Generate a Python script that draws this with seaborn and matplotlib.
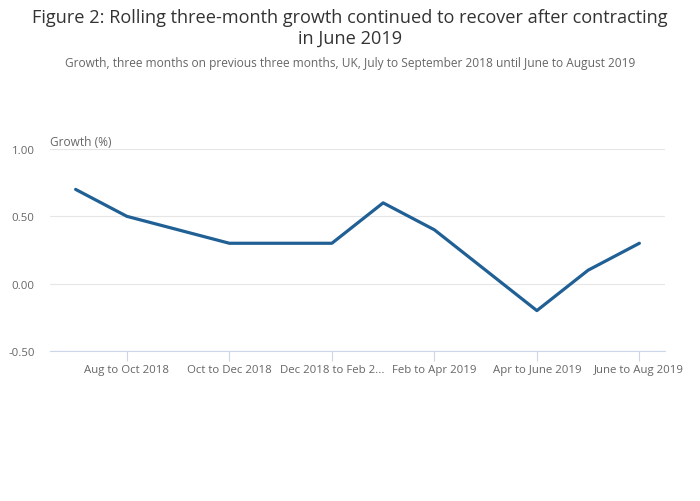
import matplotlib
matplotlib.use("Agg")
import matplotlib.pyplot as plt
import seaborn as sns
import pandas as pd

periods = ["Jul to Sep 2018", "Aug to Oct 2018", "Sep to Nov 2018", "Oct to Dec 2018",
           "Nov 2018 to Jan 2019", "Dec 2018 to Feb 2019", "Jan to Mar 2019",
           "Feb to Apr 2019", "Mar to May 2019", "Apr to June 2019",
           "May to July 2019", "June to Aug 2019"]
growth = [0.7, 0.5, 0.4, 0.3, 0.3, 0.3, 0.6, 0.4, 0.1, -0.2, 0.1, 0.3]
tick_idx = [1, 3, 5, 7, 9, 11]
tick_labels = ["Aug to Oct 2018", "Oct to Dec 2018", "Dec 2018 to Feb 2...",
               "Feb to Apr 2019", "Apr to June 2019", "June to Aug 2019"]
y_ticks = [-0.5, 0.0, 0.5, 1.0]

sns.set_theme(style="white")
plt.rcParams["font.family"] = ["Open Sans", "DejaVu Sans"]

df = pd.DataFrame({"pos": range(len(periods)), "period": periods, "growth": growth})

fig = plt.figure(figsize=(7, 5.02), dpi=100)
ax = fig.add_axes([50 / 700, 1 - 352 / 502, 615 / 700, 202 / 502])

sns.lineplot(data=df, x="pos", y="growth", ax=ax, color="#206095", linewidth=2.3)

ax.set_xlim(-0.5, 11.5)
ax.set_ylim(-0.5, 1.0)
ax.set_yticks(y_ticks)
ax.set_yticklabels([f"{v:.2f}" for v in y_ticks])
ax.set_xticks(tick_idx)
ax.set_xticklabels(tick_labels)
ax.set_xlabel("")
ax.set_ylabel("")
ax.grid(axis="y", color="#e6e6e6", linewidth=0.8)
ax.set_axisbelow(True)
for s in ["top", "right", "left"]:
    ax.spines[s].set_visible(False)
ax.spines["bottom"].set_color("#ccd6eb")
ax.spines["bottom"].set_linewidth(0.8)
ax.tick_params(axis="x", bottom=True, length=7.5, width=0.8, color="#ccd6eb",
               labelsize=8.2, labelcolor="#666666", pad=2)
ax.tick_params(axis="y", left=False, length=0, labelsize=8.2, labelcolor="#666666", pad=11)

ax.text(0, (352 - 143) / 202, "Growth (%)", transform=ax.transAxes, fontsize=8.6,
        color="#666666", ha="left", va="center")

fig.text(0.5, 1 - 18 / 502, "Figure 2: Rolling three-month growth continued to recover after contracting",
         ha="center", va="center", fontsize=13.1, color="#333333")
fig.text(0.5, 1 - 39 / 502, "in June 2019", ha="center", va="center",
         fontsize=13.1, color="#333333")
fig.text(0.5, 1 - 64 / 502,
         "Growth, three months on previous three months, UK, July to September 2018 until June to August 2019",
         ha="center", va="center", fontsize=8.55, color="#666666")

fig.savefig("out.png", dpi=100)
